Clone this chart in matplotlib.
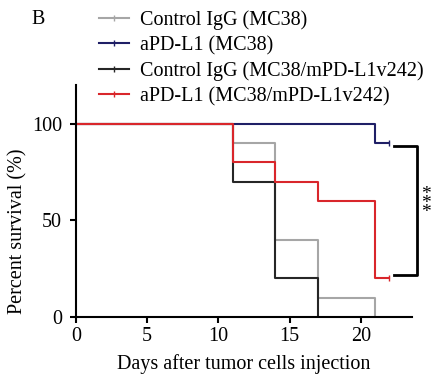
import matplotlib
matplotlib.use('Agg')
import matplotlib.pyplot as plt
from matplotlib.lines import Line2D

plt.rcParams['font.family'] = ['Liberation Serif', 'DejaVu Serif']

# 生存曲线数据 (天, 存活百分比)
days_igg_mc38 = [0, 11, 14, 17, 21]
surv_igg_mc38 = [100, 90, 40, 10, 0]
days_pd_mc38 = [0, 21, 22]
surv_pd_mc38 = [100, 90, 90]
days_igg_v242 = [0, 11, 14, 17]
surv_igg_v242 = [100, 70, 20, 0]
days_pd_v242 = [0, 11, 14, 17, 21, 22]
surv_pd_v242 = [100, 80, 70, 60, 20, 20]

labels = ["Control IgG (MC38)", "aPD-L1 (MC38)",
          "Control IgG (MC38/mPD-L1v242)", "aPD-L1 (MC38/mPD-L1v242)"]
colors = ["#a6a6a6", "#1f1f66", "#262626", "#d9262b"]

fs = 14.5

fig = plt.figure(figsize=(4.36, 3.8), dpi=100)
ax = fig.add_axes([0.174, 0.166, 0.771, 0.61])

ax.step(days_pd_mc38, surv_pd_mc38, where='post', color=colors[1], lw=1.5)
ax.step(days_igg_mc38, surv_igg_mc38, where='post', color=colors[0], lw=1.5)
ax.step(days_igg_v242, surv_igg_v242, where='post', color=colors[2], lw=1.5)
ax.step(days_pd_v242, surv_pd_v242, where='post', color=colors[3], lw=1.5)
# censored marks
ax.plot([days_pd_mc38[-1]], [surv_pd_mc38[-1]], marker='|', ms=5, color=colors[1])
ax.plot([days_pd_v242[-1]], [surv_pd_v242[-1]], marker='|', ms=5, color=colors[3])

# significance bracket
ax.plot([22.3, 23.95, 23.95, 22.3], [88.5, 88.5, 21.5, 21.5], color='black', lw=2, clip_on=False)
ax.text(24.6, 58.5, "*\n*\n*", ha='center', va='center', fontsize=14,
        linespacing=0.38, clip_on=False)

ax.set_xlim(0, 23.6)
ax.set_ylim(0, 120)
ax.set_xticks([0, 5, 10, 15, 20])
ax.set_yticks([0, 50, 100])
ax.spines['top'].set_visible(False)
ax.spines['right'].set_visible(False)
ax.spines['left'].set_linewidth(1.5)
ax.spines['bottom'].set_linewidth(1.5)
ax.tick_params(labelsize=fs, width=1.5, length=4)
ax.tick_params(axis='x', pad=3)
ax.tick_params(axis='y', pad=6)
ax.set_xlabel("Days after tumor cells injection", fontsize=fs, labelpad=6)
ax.set_ylabel("Percent survival (%)", fontsize=fs)
ax.yaxis.set_label_coords(-0.143, 0.37)

handles = [Line2D([0], [0], color=c, lw=1.5, marker='|', ms=4) for c in colors]
fig.legend(handles, labels, loc='upper left', bbox_to_anchor=(0.2, 1.005),
           frameon=False, fontsize=fs, handlelength=1.5, numpoints=1,
           labelspacing=0.3, handletextpad=0.5, borderaxespad=0.2)

fig.text(0.087, 0.95, "B", fontsize=fs, ha='center', va='center')

fig.savefig("out.png", dpi=100)
